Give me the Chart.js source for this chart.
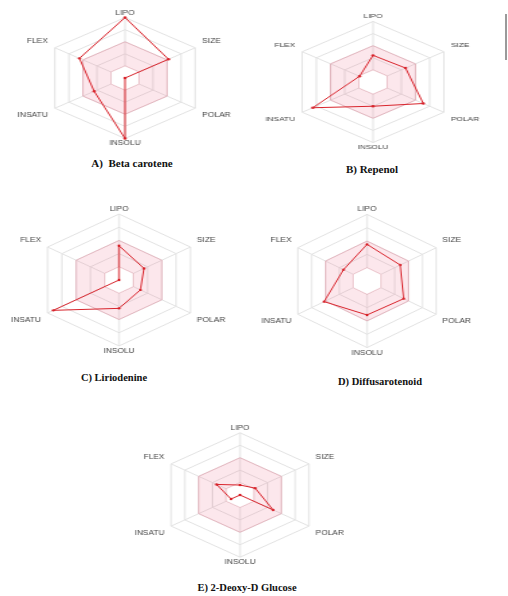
<!DOCTYPE html>
<html>
<head>
<meta charset="utf-8">
<script src="https://cdn.jsdelivr.net/npm/chart.js@4.4.1/dist/chart.umd.min.js"></script>
<style>
  html, body { margin: 0; padding: 0; background: #ffffff; }
  body { width: 508px; height: 596px; position: relative; overflow: hidden; }
  .wrap { position: absolute; }
  .title { position: absolute; width: 220px; text-align: center; font-family: "Liberation Serif", "Times New Roman", serif; font-weight: bold; color: #111; line-height: 14px; height: 14px; white-space: pre; }
  .edge { position: absolute; left: 505px; top: 14px; width: 2px; height: 46px; background: #9a9a9a; }
</style>
</head>
<body>
<div class="edge"></div>
<script>
// ---- data ----
const categories = ['LIPO', 'SIZE', 'POLAR', 'INSOLU', 'INSATU', 'FLEX'];
const betaCarotene    = [5.0, 3.1, 0.0, 5.0, 2.2, 3.25];
const repenol         = [2.2, 2.3, 3.55, 2.0, 4.25, 0.95];
const liriodenine     = [2.6, 1.75, 1.5, 2.15, 4.6, 0.0];
const diffusarotenoid = [2.75, 2.4, 2.65, 2.55, 3.1, 1.7];
const deoxyGlucose    = [0.8, 1.1, 2.4, 0.0, 0.65, 1.7];
const optimalUpper    = [3, 3, 3, 3, 3, 3];
const optimalLower    = [1, 1, 1, 1, 1, 1];
const scaleMax = 5;
const titles = ['A)  Beta carotene', 'B) Repenol', 'C) Liriodenine', 'D) Diffusarotenoid', 'E) 2-Deoxy-D Glucose'];
const seriesList = [betaCarotene, repenol, liriodenine, diffusarotenoid, deoxyGlucose];

// ---- layout (positions / sizes) ----
const layouts = [
  { cx: 125, cy: 79,  r: 60, s: 1.34, fs: 6.3, tx: 132, ty: 163, tfs: 11 },
  { cx: 373, cy: 82,  r: 61, s: 1.35, fs: 6.2, tx: 372, ty: 169, tfs: 11 },
  { cx: 119, cy: 280, r: 66, s: 1.25, fs: 6.7, tx: 114, ty: 378, tfs: 10.5 },
  { cx: 367, cy: 282, r: 67, s: 1.20, fs: 7.0, tx: 380, ty: 382, tfs: 10.5 },
  { cx: 240, cy: 496, r: 62, s: 1.28, fs: 6.5, tx: 247, ty: 588, tfs: 10.5 }
];

const RED = '#d8242c';
const padTop = 1, padSide = 6;

seriesList.forEach((values, k) => {
  const L = layouts[k];
  const lh = 1.2 * L.fs;
  const half = Math.round(L.r + padTop + lh);
  const H = 2 * half;
  const W = 2 * Math.round(L.r + 55);
  const wrap = document.createElement('div');
  wrap.className = 'wrap';
  wrap.style.left = (L.cx - W / 2) + 'px';
  wrap.style.top = (L.cy - H / 2) + 'px';
  wrap.style.width = W + 'px';
  wrap.style.height = H + 'px';
  wrap.style.transform = 'scaleX(' + L.s + ')';
  wrap.style.transformOrigin = (W / 2) + 'px 50%';
  const cv = document.createElement('canvas');
  cv.width = W; cv.height = H;
  wrap.appendChild(cv);
  document.body.appendChild(wrap);

  new Chart(cv.getContext('2d'), {
    type: 'radar',
    data: {
      labels: categories,
      datasets: [
        {
          data: values,
          order: 0,
          borderColor: RED,
          borderWidth: 1,
          pointRadius: 1.2,
          pointBackgroundColor: RED,
          pointBorderWidth: 0,
          fill: false,
          tension: 0
        },
        {
          data: optimalLower,
          order: 1,
          borderColor: 'rgba(225,140,155,0.45)',
          borderWidth: 0.8,
          backgroundColor: '#ffffff',
          pointRadius: 0,
          fill: 'origin'
        },
        {
          data: optimalUpper,
          order: 2,
          borderColor: 'rgba(225,120,140,0.45)',
          borderWidth: 0.8,
          backgroundColor: 'rgba(235,95,125,0.15)',
          pointRadius: 0,
          fill: 'origin'
        }
      ]
    },
    options: {
      responsive: false,
      animation: false,
      events: [],
      layout: { padding: 0 },
      plugins: { legend: { display: false }, tooltip: { enabled: false } },
      scales: {
        r: {
          min: 0,
          max: scaleMax,
          ticks: { display: false, stepSize: 1 },
          grid: { color: '#e2e2e2', lineWidth: 1 },
          angleLines: { color: '#e2e2e2', lineWidth: 1 },
          pointLabels: {
            color: '#444444',
            font: { family: 'Liberation Sans, Arial, sans-serif', size: L.fs },
            padding: (ctx) => (ctx.index === 0 || ctx.index === 3) ? padTop : padSide
          }
        }
      }
    }
  });

  const t = document.createElement('div');
  t.className = 'title';
  t.textContent = titles[k];
  t.style.fontSize = L.tfs + 'px';
  t.style.left = (L.tx - 110) + 'px';
  t.style.top = (L.ty - 7) + 'px';
  document.body.appendChild(t);
});
</script>
</body>
</html>
